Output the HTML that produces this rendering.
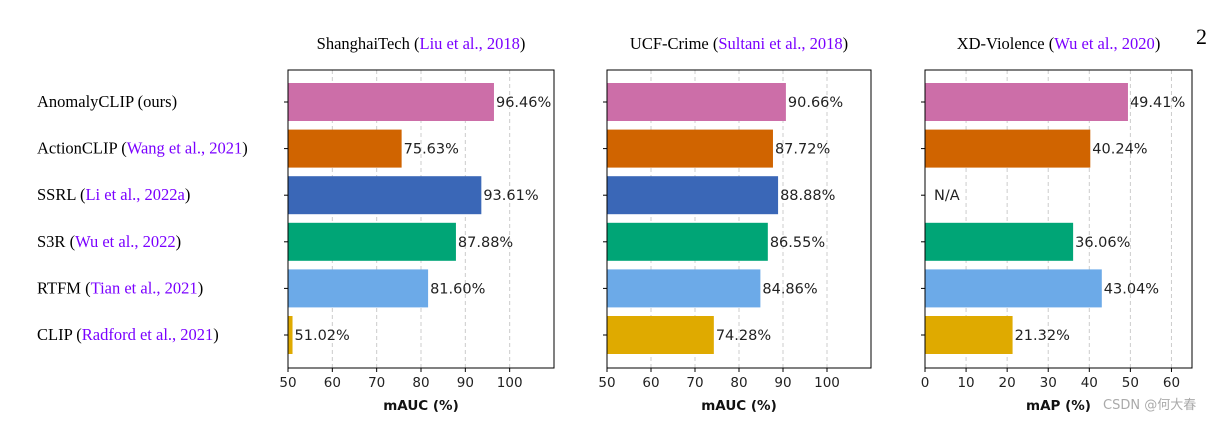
<!DOCTYPE html>
<html><head><meta charset="utf-8"><style>
body{margin:0;background:#fff;width:1218px;height:419px;overflow:hidden}
svg text{font-family:"DejaVu Sans","Liberation Sans",sans-serif}
.serif{font-family:"Liberation Serif",serif}
</style></head><body>
<svg id="c" width="1218" height="419" xmlns="http://www.w3.org/2000/svg">
<text class="serif" x="1196" y="44" font-size="22">2</text>
</svg>
<script>
const methods=["AnomalyCLIP (ours)","ActionCLIP","SSRL","S3R","RTFM","CLIP"];
const cites=["","Wang et al., 2021","Li et al., 2022a","Wu et al., 2022","Tian et al., 2021","Radford et al., 2021"];
const colors=["#cc6ea8","#d06400","#3a67b7","#00a576","#6caae8","#dfaa00"];
const shtValues=[96.46,75.63,93.61,87.88,81.60,51.02];
const ucfValues=[90.66,87.72,88.88,86.55,84.86,74.28];
const xdValues=[49.41,40.24,null,36.06,43.04,21.32];
const shtTicks=[50,60,70,80,90,100];
const ucfTicks=[50,60,70,80,90,100];
const xdTicks=[0,10,20,30,40,50,60];
const NS="http://www.w3.org/2000/svg";
const svg=document.getElementById('c');
function mk(t,a,p){const e=document.createElementNS(NS,t);for(const k in a)e.setAttribute(k,a[k]);(p||svg).appendChild(e);return e;}
const plotTop=70,plotBot=368,y0=102,dy=46.6,bh=38;
methods.forEach((m,i)=>{
  const t=mk('text',{x:37,y:y0+i*dy+5,'font-size':16.5,class:'serif',fill:'#000'});
  
  
  t.textContent=m;
  if(cites[i]){const a=document.createElementNS(NS,'tspan');a.textContent=' (';t.appendChild(a);
    const b=document.createElementNS(NS,'tspan');b.setAttribute('fill','#7a00ff');b.textContent=cites[i];t.appendChild(b);
    const c=document.createElementNS(NS,'tspan');c.textContent=')';t.appendChild(c);}
});
function panel(name,left,right,xmin,xmax,vals,ticks,xlabel,titleA,titleB){
  const sx=v=>left+(v-xmin)/(xmax-xmin)*(right-left);
  const g=mk('g',{});
  
  
  ticks.forEach(t=>{
    const l=mk('line',{x1:sx(t),x2:sx(t),y1:plotTop,y2:plotBot,stroke:'#ccc','stroke-dasharray':'4,3','stroke-width':1},g);
    
    
    mk('line',{x1:sx(t),x2:sx(t),y1:plotBot,y2:plotBot+4,stroke:'#000'},g);
    const tx=mk('text',{x:sx(t),y:plotBot+19,'font-size':13.5,'text-anchor':'middle',fill:'#222'},g);
    
    
    tx.textContent=t;
  });
  vals.forEach((v,i)=>{
    const cy=y0+i*dy;
    mk('line',{x1:left-4,x2:left,y1:cy,y2:cy,stroke:'#000'},g);
    if(v===null){const n=mk('text',{x:sx(xmin)+9,y:cy+5,'font-size':14.5,fill:'#222'},g);
      
      
      n.textContent='N/A';return;}
    const r=mk('rect',{x:left,y:cy-bh/2,width:sx(v)-left,height:bh,fill:colors[i]},g);
    
    
    const lb=mk('text',{x:sx(v)+2,y:cy+5,'font-size':14.5,fill:'#222'},g);
    
    
    lb.textContent=v.toFixed(2)+'%';
  });
  mk('rect',{x:left,y:plotTop,width:right-left,height:plotBot-plotTop,fill:'none',stroke:'#000','stroke-width':1},g);
  const xl=mk('text',{x:(left+right)/2,y:410,'font-size':13.5,'font-weight':'bold','text-anchor':'middle',fill:'#111'},g);
  
  
  xl.textContent=xlabel;
  const tt=mk('text',{x:(left+right)/2,y:49,'font-size':16.5,class:'serif','text-anchor':'middle',fill:'#000'},g);
  
  
  const a=document.createElementNS(NS,'tspan');a.textContent=titleA+' (';tt.appendChild(a);
  const b=document.createElementNS(NS,'tspan');b.setAttribute('fill','#7a00ff');b.textContent=titleB;tt.appendChild(b);
  const c=document.createElementNS(NS,'tspan');c.textContent=')';tt.appendChild(c);
}
panel('shanghaitech',288,554,50,110,shtValues,shtTicks,'mAUC (%)','ShanghaiTech','Liu et al., 2018');
panel('ucf-crime',607,871,50,110,ucfValues,ucfTicks,'mAUC (%)','UCF-Crime','Sultani et al., 2018');
panel('xd-violence',925,1192,0,65,xdValues,xdTicks,'mAP (%)','XD-Violence','Wu et al., 2020');
const w=mk('text',{x:1103,y:409,'font-size':13,fill:'#aaa'});


w.setAttribute('font-family','"Liberation Sans","Noto Sans CJK SC",sans-serif');
w.textContent='CSDN @何大春';
</script>
</body></html>
